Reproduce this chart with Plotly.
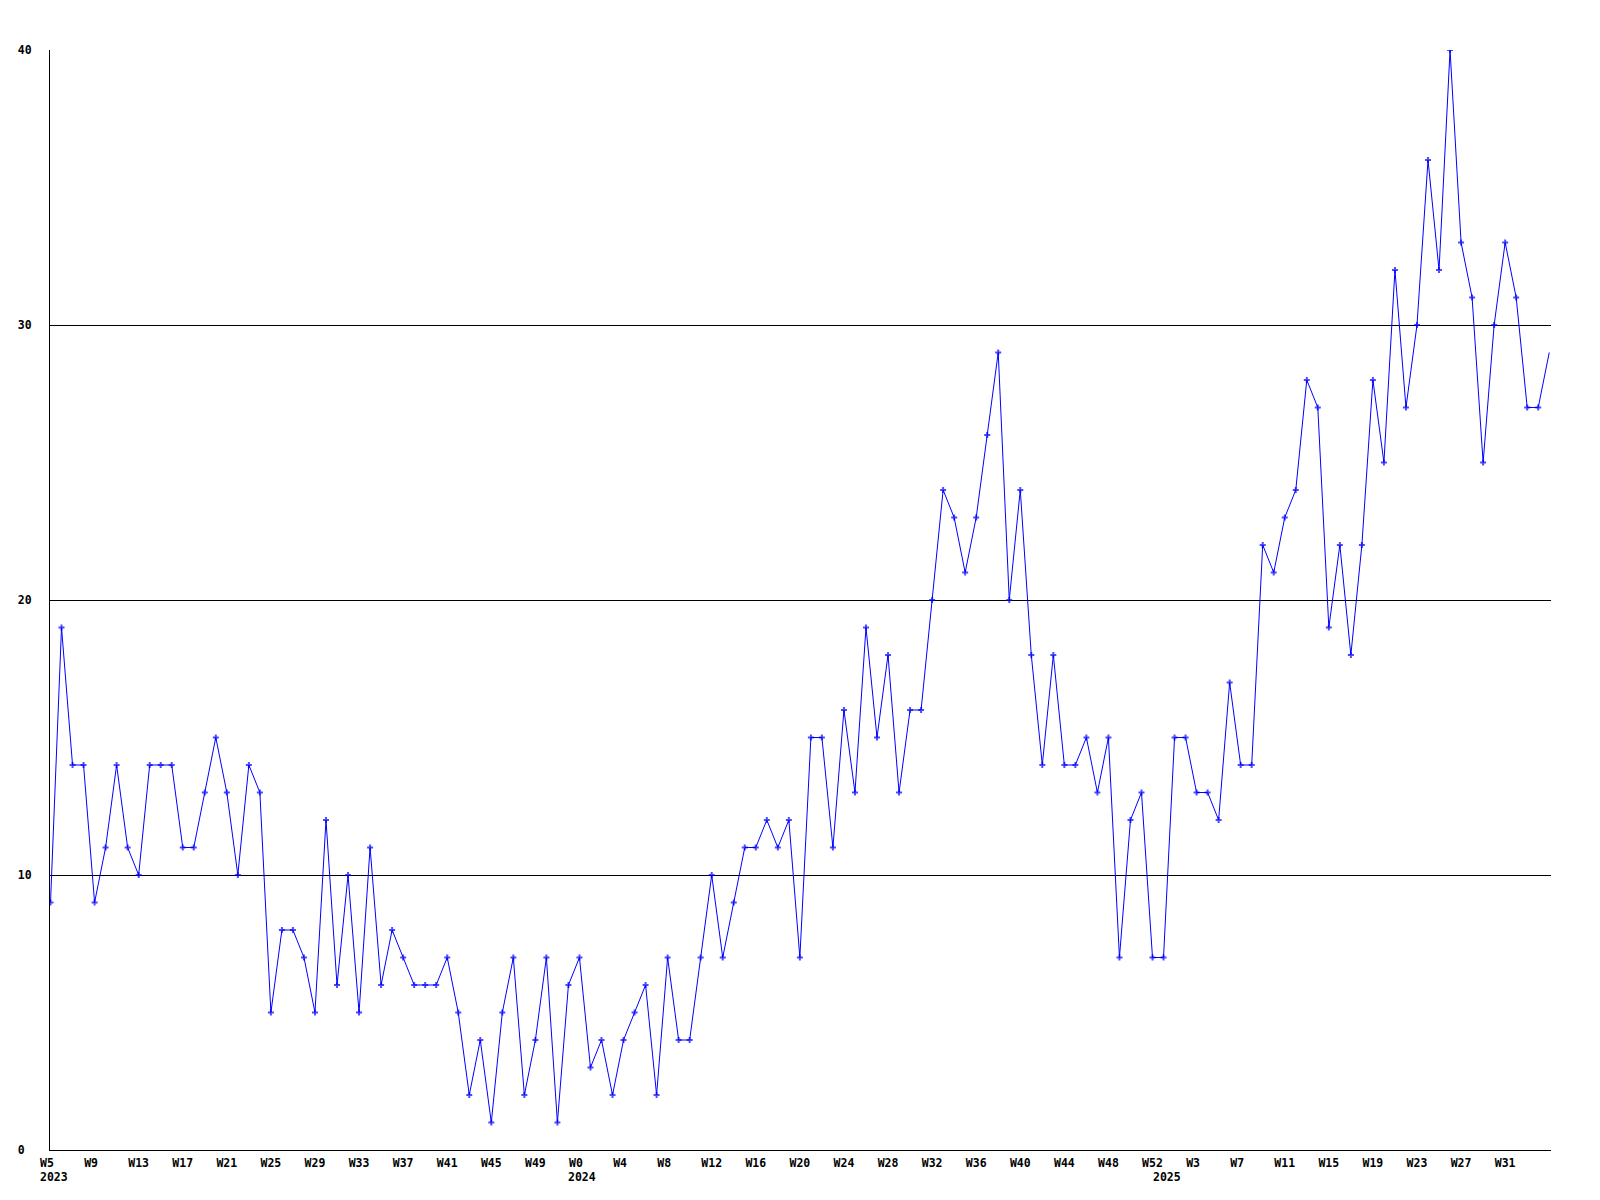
import plotly.graph_objects as go

# ---- data ----
weeks_2023 = list(range(5, 53))   # W5 .. W52
weeks_2024 = list(range(0, 53))   # W0 .. W52
weeks_2025 = list(range(0, 36))   # W0 .. W35

counts_2023 = [9, 19, 14, 14, 9, 11, 14, 11, 10, 14, 14, 14, 11, 11, 13, 15, 13, 10, 14, 13,
               5, 8, 8, 7, 5, 12, 6, 10, 5, 11, 6, 8, 7, 6, 6, 6, 7, 5, 2, 4,
               1, 5, 7, 2, 4, 7, 1, 6]
counts_2024 = [7, 3, 4, 2, 4, 5, 6, 2, 7, 4, 4, 7, 10, 7, 9, 11, 11, 12, 11, 12,
               7, 15, 15, 11, 16, 13, 19, 15, 18, 13, 16, 16, 20, 24, 23, 21, 23, 26, 29, 20,
               24, 18, 14, 18, 14, 14, 15, 13, 15, 7, 12, 13, 7]
counts_2025 = [7, 15, 15, 13, 13, 12, 17, 14, 14, 22, 21, 23, 24, 28, 27, 19, 22, 18, 22, 28,
               25, 32, 27, 30, 36, 32, 40, 33, 31, 25, 30, 33, 31, 27, 27, 29]

y_ticks = [0, 10, 20, 30, 40]
tick_step = 4
last_labelled_week = "2025 W31"

# ---- build categories ----
periods = ([(2023, w) for w in weeks_2023] + [(2024, w) for w in weeks_2024] +
           [(2025, w) for w in weeks_2025])
categories = [f"{y} W{w}" for y, w in periods]
counts = counts_2023 + counts_2024 + counts_2025

NB = "\u00a0"
last_idx = categories.index(last_labelled_week)
tick_idx = list(range(0, last_idx + 1, tick_step))
tickvals = [categories[i] for i in tick_idx]
ticktext = [f"W{periods[i][1]}".ljust(3, NB) for i in tick_idx]

year_starts = []
seen = set()
for cat, (y, w) in zip(categories, periods):
    if y not in seen:
        seen.add(y)
        year_starts.append((cat, str(y)))

FONT = dict(family="DejaVu Sans Mono", size=11.5, color="black", weight="bold")

marker_sizes = [5] * (len(counts) - 1) + [0]

fig = go.Figure()
fig.add_trace(go.Scatter(
    x=categories, y=counts, mode="lines+markers",
    line=dict(color="#0000ff", width=1),
    marker=dict(symbol="cross", size=marker_sizes, color="#0000ff", line=dict(width=0)),
    hoverinfo="x+y", showlegend=False, cliponaxis=True,
))

for cat, label in year_starts:
    fig.add_annotation(
        x=cat, xref="x", y=0, yref="paper", text=label, showarrow=False,
        xanchor="left", yanchor="top", xshift=-13, yshift=-18, font=FONT,
    )

fig.update_layout(
    width=1600, height=1200,
    margin=dict(l=50, r=49, t=50, b=50, pad=0),
    paper_bgcolor="white", plot_bgcolor="white",
    font=FONT,
)
fig.update_xaxes(
    type="category", categoryorder="array", categoryarray=categories,
    range=[-0.045, len(categories) - 1 + 0.16],
    tickmode="array", tickvals=tickvals, ticktext=ticktext, tickangle=0,
    showgrid=False, zeroline=False, showline=True, linecolor="black", linewidth=1,
    ticks="", ticklabelstandoff=2, tickfont=FONT,
)
fig.update_yaxes(
    range=[0, 40], tickmode="array", tickvals=y_ticks,
    ticktext=[str(v).ljust(2, NB) for v in y_ticks],
    showgrid=True, gridcolor="black", gridwidth=1,
    zeroline=False, showline=True, linecolor="black", linewidth=1,
    ticks="", ticklabelstandoff=15, tickfont=FONT,
)

fig.write_html(
    "out.html",
    config={"displayModeBar": False},
    post_script="document.body.style.margin='0';document.body.style.overflow='hidden';",
)
